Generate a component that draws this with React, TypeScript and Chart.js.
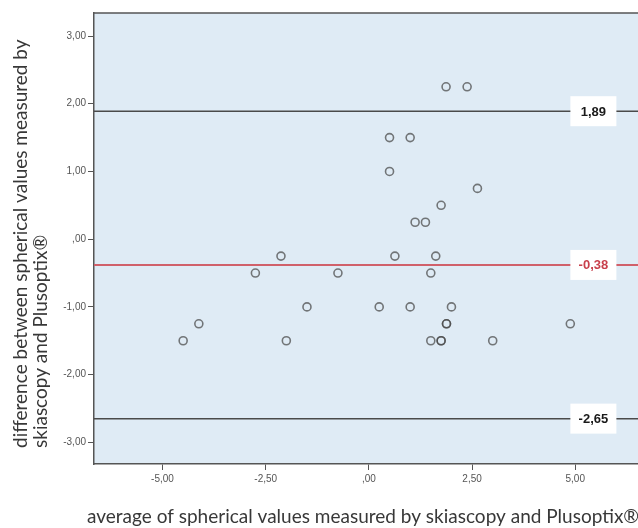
import React, { useEffect, useRef } from "react";
import { Chart, registerables } from "chart.js";

Chart.register(...registerables);

const xValues = [1.87, 2.38, 0.5, 1.0, 0.5, 2.63, 1.75, 1.12, 1.37, 0.63, 1.62, -2.13, -2.75, -0.75, 1.5, -1.5, 0.25, 1.0, 2.0, -4.12, 1.88, 1.88, 4.88, -4.5, -2.0, 1.5, 1.75, 1.75, 3.0];
const yValues = [2.25, 2.25, 1.5, 1.5, 1.0, 0.75, 0.5, 0.25, 0.25, -0.25, -0.25, -0.25, -0.5, -0.5, -0.5, -1.0, -1.0, -1.0, -1.0, -1.25, -1.25, -1.25, -1.25, -1.5, -1.5, -1.5, -1.5, -1.5, -1.5];

const xTickValues = [-5, -2.5, 0, 2.5, 5];
const xTickLabels = ["-5,00", "-2,50", ",00", "2,50", "5,00"];
const yTickValues = [3, 2, 1, 0, -1, -2, -3];
const yTickLabels = ["3,00", "2,00", "1,00", ",00", "-1,00", "-2,00", "-3,00"];

const limitValues = [1.89, -0.38, -2.65];
const limitLabels = ["1,89", "-0,38", "-2,65"];
const limitColors = ["#4a4a4a", "#d0606a", "#4a4a4a"];
const limitTextColors = ["#1a1a1a", "#c8404c", "#1a1a1a"];

const xTitle = "average of spherical values measured by skiascopy and Plusoptix®";
const yTitleLines = ["difference between spherical values measured by", "skiascopy and Plusoptix®"];

const decor = {
  id: "decor",
  beforeDraw(chart: any) {
    const { ctx, chartArea: a } = chart;
    ctx.save();
    ctx.fillStyle = "#ffffff";
    ctx.fillRect(0, 0, chart.width, chart.height);
    ctx.fillStyle = "#dfebf5";
    ctx.fillRect(a.left, a.top, a.right - a.left, a.bottom - a.top);
    ctx.restore();
  },
  beforeDatasetsDraw(chart: any) {
    const { ctx, chartArea: a, scales } = chart;
    const y = scales.y;
    ctx.save();
    ctx.strokeStyle = "#555";
    ctx.lineWidth = 1.5;
    ctx.beginPath();
    ctx.moveTo(a.left, a.top);
    ctx.lineTo(a.right, a.top);
    ctx.stroke();
    const boxCx = a.left + (a.right - a.left) * 0.918;
    limitValues.forEach((v, i) => {
      const py = y.getPixelForValue(v);
      ctx.strokeStyle = limitColors[i];
      ctx.lineWidth = i === 1 ? 2 : 1.5;
      ctx.beginPath();
      ctx.moveTo(a.left, py);
      ctx.lineTo(a.right, py);
      ctx.stroke();
      ctx.fillStyle = "#ffffff";
      ctx.fillRect(boxCx - 23, py - 15, 46, 30);
      ctx.fillStyle = limitTextColors[i];
      ctx.font = "bold 13px 'Liberation Sans', Arial, sans-serif";
      ctx.textAlign = "center";
      ctx.textBaseline = "middle";
      ctx.fillText(limitLabels[i], boxCx, py + 1);
    });
    ctx.restore();
  },
  afterDraw(chart: any) {
    const { ctx } = chart;
    ctx.save();
    ctx.fillStyle = "#383838";
    ctx.font = "19px Lato, 'Open Sans', sans-serif";
    ctx.textAlign = "left";
    ctx.textBaseline = "middle";
    ctx.fillText(xTitle, 87, 517);
    yTitleLines.forEach((line, i) => {
      ctx.save();
      ctx.translate(21 + i * 20, 448);
      ctx.rotate(-Math.PI / 2);
      ctx.fillText(line, 0, 0);
      ctx.restore();
    });
    ctx.restore();
  },
};

export default function App() {
  const ref = useRef<HTMLCanvasElement>(null);
  useEffect(() => {
    if (!ref.current) return;
    const points = xValues.map((x, i) => ({ x, y: yValues[i] }));
    const chart = new Chart(ref.current, {
      type: "scatter",
      data: {
        datasets: [
          {
            data: points,
            pointRadius: 4,
            pointBorderWidth: 1.6,
            pointBackgroundColor: "rgba(0,0,0,0)",
            pointBorderColor: "rgba(70,70,70,0.72)",
          },
        ],
      },
      options: {
        animation: false,
        responsive: true,
        maintainAspectRatio: false,
        layout: { autoPadding: false, padding: { top: 13, left: 0, right: 0, bottom: 0 } },
        plugins: { legend: { display: false }, tooltip: { enabled: false } },
        scales: {
          x: {
            type: "linear",
            min: -6.66,
            max: 6.52,
            afterFit: (s: any) => {
              s.height = 64;
              s.paddingLeft = 0;
              s.paddingRight = 0;
            },
            afterBuildTicks: (s: any) => {
              s.ticks = xTickValues.map((v) => ({ value: v }));
            },
            ticks: {
              callback: (v: any) => {
                const i = xTickValues.indexOf(Number(v));
                return i >= 0 ? xTickLabels[i] : "";
              },
              font: { family: "'Liberation Sans', Arial, sans-serif", size: 10 },
              color: "#555",
              padding: 3,
              maxRotation: 0,
            },
            grid: { drawOnChartArea: false, drawTicks: true, tickLength: 6, color: "#555", tickWidth: 1 },
            border: { color: "#555", width: 1.5 },
          },
          y: {
            type: "linear",
            min: -3.32,
            max: 3.34,
            afterFit: (s: any) => {
              s.width = 94;
              s.paddingTop = 0;
              s.paddingBottom = 0;
            },
            afterBuildTicks: (s: any) => {
              s.ticks = yTickValues.map((v) => ({ value: v }));
            },
            ticks: {
              callback: (v: any) => {
                const i = yTickValues.indexOf(Number(v));
                return i >= 0 ? yTickLabels[i] : "";
              },
              font: { family: "'Liberation Sans', Arial, sans-serif", size: 10 },
              color: "#555",
              padding: 2,
            },
            grid: { drawOnChartArea: false, drawTicks: true, tickLength: 6, color: "#555", tickWidth: 1 },
            border: { color: "#555", width: 1.5 },
          },
        },
      },
      plugins: [decor],
    });
    return () => chart.destroy();
  }, []);
  return (
    <div style={{ position: "absolute", left: 0, top: 0, width: 638, height: 528 }}>
      <canvas ref={ref} />
    </div>
  );
}
